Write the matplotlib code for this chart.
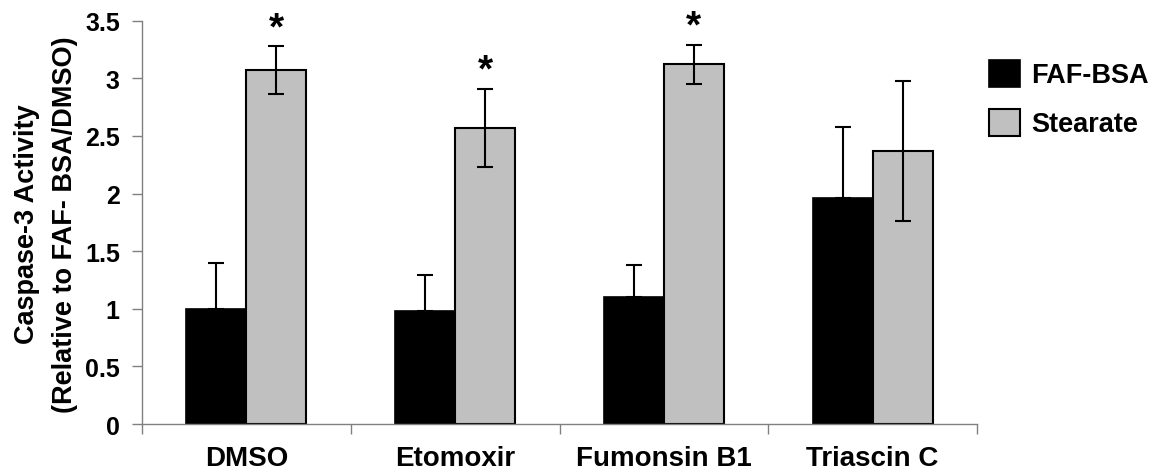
import numpy as np
import matplotlib
matplotlib.use("Agg")
import matplotlib.pyplot as plt

plt.rcParams['font.family'] = ['Liberation Sans', 'DejaVu Sans']
plt.rcParams['font.weight'] = 'bold'

categories = ["DMSO", "Etomoxir", "Fumonsin B1", "Triascin C"]
faf_bsa = [1.00, 0.98, 1.10, 1.96]
faf_bsa_err = [0.40, 0.31, 0.28, 0.62]
stearate = [3.07, 2.57, 3.12, 2.37]
stearate_err = [0.21, 0.34, 0.17, 0.61]
significant = [True, True, True, False]

fig = plt.figure(figsize=(11.49, 4.77), dpi=100)
ax = fig.add_axes([0.1236, 0.109, 0.8503 - 0.1236, 0.9545 - 0.109])

x = np.arange(len(categories))
w = 0.287

ax.bar(x - w / 2, faf_bsa, w, color='black', edgecolor='black', linewidth=1.2,
       label='FAF-BSA', zorder=2)
ax.bar(x + w / 2, stearate, w, color='#c0c0c0', edgecolor='black', linewidth=1.5,
       label='Stearate', zorder=2)

ax.errorbar(x - w / 2, faf_bsa, yerr=[np.zeros(len(x)), faf_bsa_err], fmt='none',
            ecolor='black', elinewidth=1.5, capsize=6, capthick=1.5, zorder=3)
ax.errorbar(x + w / 2, stearate, yerr=stearate_err, fmt='none',
            ecolor='black', elinewidth=1.5, capsize=6, capthick=1.5, zorder=3)

# significance stars
for i in range(len(x)):
    if significant[i]:
        ax.text(x[i] + w / 2, stearate[i] + stearate_err[i] + 0.0, '*',
                ha='center', va='bottom', fontsize=28, fontweight='bold')

ax.set_xlim(-0.5, len(x) - 0.5)
ax.set_ylim(0, 3.5)
ax.set_yticks(np.arange(0, 3.51, 0.5))
ax.set_yticklabels(['0', '0.5', '1', '1.5', '2', '2.5', '3', '3.5'])
ax.set_xticks(x)
ax.set_xticklabels(categories)
ax.set_xticks(np.arange(-0.5, len(x), 1.0), minor=True)

for s in ['top', 'right']:
    ax.spines[s].set_visible(False)
for s in ['left', 'bottom']:
    ax.spines[s].set_color('#808080')
    ax.spines[s].set_linewidth(1.0)

ax.tick_params(axis='y', direction='out', length=7, width=1.0, color='#808080',
               labelsize=18, pad=9)
ax.tick_params(axis='x', which='major', length=0, labelsize=20, pad=15)
ax.tick_params(axis='x', which='minor', direction='out', length=7, width=1.0,
               color='#808080')

fig.text(46 / 1149, 0.53, 'Caspase-3 Activity\n(Relative to FAF- BSA/DMSO)',
         rotation=90, ha='center', va='center', multialignment='center',
         fontsize=19.5, fontweight='bold', linespacing=1.6)

leg = ax.legend(loc='upper left', bbox_to_anchor=(978 / 1149, 1 - 50 / 477),
                bbox_transform=fig.transFigure, frameon=False, fontsize=19.5,
                handlelength=1.15, handleheight=1.15, labelspacing=0.75,
                handletextpad=0.4, borderaxespad=0)

fig.savefig('out.png', dpi=100)
